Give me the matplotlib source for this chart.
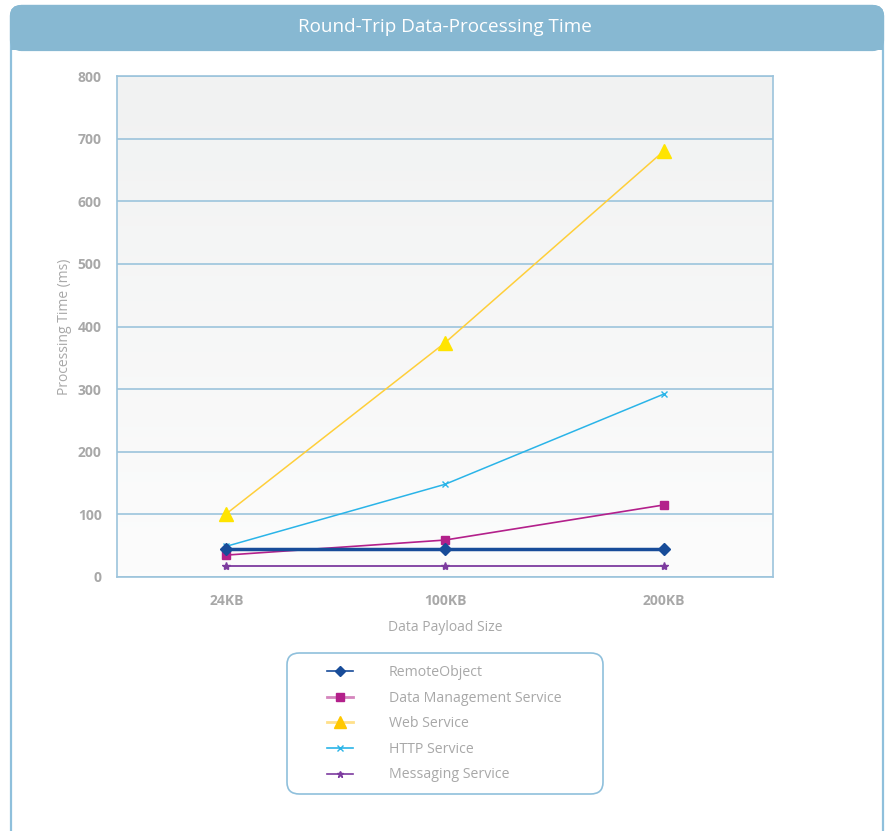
import numpy as np
import matplotlib.pyplot as plt
from matplotlib.patches import FancyBboxPatch, Rectangle
from matplotlib.lines import Line2D
from matplotlib.colors import LinearSegmentedColormap

plt.rcParams['font.family'] = ['Open Sans', 'DejaVu Sans']

sizes = ['24KB', '100KB', '200KB']
remote_object = [45, 45, 45]
data_mgmt = [35, 59, 115]
web_service = [101, 374, 680]
http_service = [49, 148, 292]
messaging = [17, 17, 17]

W, H = 885, 831
fig = plt.figure(figsize=(W/100, H/100), dpi=100)

def fx(px):
    return px / W

def fy(py):
    return 1 - py / H

# card with header band
card = FancyBboxPatch((fx(11), fy(845)), fx(872), fy(6) - fy(845),
                      boxstyle="round,pad=0,rounding_size=0.012",
                      transform=fig.transFigure, facecolor='white',
                      edgecolor='#8fc0dc', linewidth=1.6, zorder=0)
fig.patches.append(card)
head = FancyBboxPatch((fx(11), fy(50)), fx(872), fy(6) - fy(50),
                      boxstyle="round,pad=0,rounding_size=0.012",
                      transform=fig.transFigure, facecolor='#87b8d2',
                      edgecolor='#87b8d2', linewidth=1.6, zorder=1)
fig.patches.append(head)
fig.patches.append(Rectangle((fx(11), fy(50)), fx(872), fy(35) - fy(50),
                             transform=fig.transFigure, facecolor='#87b8d2',
                             edgecolor='none', zorder=1))
fig.text(fx(445), fy(27), 'Round-Trip Data-Processing Time', color='white',
         fontsize=13.6, ha='center', va='center', zorder=3)

ax = fig.add_axes([fx(117), fy(577), fx(773) - fx(117), fy(76) - fy(577)])
ax.set_zorder(2)
x = np.arange(len(sizes))

# soft vertical gradient background
grad = np.linspace(0, 1, 100).reshape(-1, 1)
ax.imshow(grad, extent=[-0.5, 2.5, 0, 800], aspect='auto', origin='lower',
          cmap=LinearSegmentedColormap.from_list('bg', ['#fcfcfc', '#f1f2f2']),
          zorder=0)

ax.plot(x, messaging, color='#7d3b9f', marker='*', markersize=6, lw=1.3, zorder=3)
ax.plot(x, remote_object, color='#184c99', marker='D', markersize=6, lw=2.5, zorder=4)
ax.plot(x, data_mgmt, color='#b3208b', marker='s', markersize=6, lw=1.2, zorder=3)
ax.plot(x, http_service, color='#2ab4e8', marker='x', markersize=5, lw=1.1, zorder=3)
ax.plot(x, web_service, color='#ffcf3a', marker='^', markersize=10, lw=1.1,
        markerfacecolor='#ffe400', markeredgecolor='#ffe400', zorder=3)

ax.set_xlim(-0.5, 2.5)
ax.set_ylim(0, 800)
ax.set_yticks(range(0, 801, 100))
ax.set_xticks(x)
ax.set_xticklabels(sizes)
ax.grid(axis='y', color='#9cc4dc', lw=1.2, zorder=1)
ax.set_axisbelow(True)
for s in ax.spines.values():
    s.set_color('#9cc4dc')
    s.set_linewidth(1.2)
ax.tick_params(length=0, colors='#a8a8a8', labelsize=10)
ax.tick_params(axis='y', pad=11)
ax.tick_params(axis='x', pad=12)
for lab in ax.get_xticklabels() + ax.get_yticklabels():
    lab.set_fontweight('bold')
ax.set_xlabel('Data Payload Size', color='#a8a8a8', fontsize=10, labelpad=9)
ax.set_ylabel('Processing Time (ms)', color='#a8a8a8', fontsize=10, labelpad=4)

# legend: frame drawn separately, thin sample lines
fig.patches.append(FancyBboxPatch((fx(287), fy(794)), fx(603) - fx(287), fy(653) - fy(794),
                                  boxstyle="round,pad=0,rounding_size=0.014",
                                  transform=fig.transFigure, facecolor='white',
                                  edgecolor='#8fc0dc', linewidth=1.2, zorder=4))
leg_names = ['RemoteObject', 'Data Management Service', 'Web Service',
             'HTTP Service', 'Messaging Service']
leg_handles = [
    Line2D([], [], color='#184c99', lw=1.2, marker='D', markersize=5),
    Line2D([], [], color='#d585bd', lw=2, marker='s', markersize=6,
           markerfacecolor='#b3208b', markeredgecolor='#b3208b'),
    Line2D([], [], color='#ffe08a', lw=2, marker='^', markersize=9,
           markerfacecolor='#ffc800', markeredgecolor='#ffc800'),
    Line2D([], [], color='#2ab4e8', lw=1.2, marker='x', markersize=4),
    Line2D([], [], color='#7d3b9f', lw=1.2, marker='*', markersize=5),
]
leg = fig.legend(leg_handles, leg_names, loc='upper left',
                 bbox_to_anchor=(fx(327), fy(665)), frameon=False,
                 fontsize=10.2, labelcolor='#a8a8a8', handlelength=1.85,
                 handletextpad=2.5, labelspacing=0.75, borderpad=0,
                 borderaxespad=0)
leg.set_zorder(5)

fig.savefig('out.png', dpi=100)
